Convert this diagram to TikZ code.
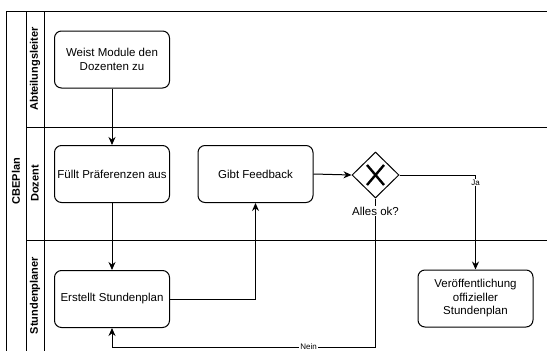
\documentclass[tikz,border=0pt]{standalone}
\usepackage{fontspec}
\setmainfont{Liberation Sans}
\usetikzlibrary{shapes.geometric,arrows.meta}
\begin{document}
\begin{tikzpicture}[x=1pt,y=-1pt,
  task/.style={draw,line width=1pt,rounded corners=7pt,minimum width=115pt,minimum height=57pt,align=center,inner sep=2pt,font=\fontsize{11.5}{13.5}\selectfont},
  lanelbl/.style={rotate=90,font=\bfseries\fontsize{11}{13}\selectfont},
  flow/.style={line width=1pt,-{Stealth[length=8pt,width=7pt]}},
  plain/.style={line width=1pt},
  pool/.style={line width=1pt}]
\useasboundingbox (0,0) rectangle (547,351);
% pool and lanes
\draw[pool] (547,11) -- (6,11) -- (6,351);
\draw[pool] (26,11) -- (26,351);
\draw[pool] (44,11) -- (44,351);
\draw[pool] (26,127) -- (547,127);
\draw[pool] (26,240) -- (547,240);
\node[lanelbl] (pl) at (16,181) {CBEPlan};
\node[lanelbl] (l1) at (35,69) {Abteilungsleiter};
\node[lanelbl] (l2) at (35,183.5) {Dozent};
\node[lanelbl] (l3) at (35,295.5) {Stundenplaner};
% tasks
\node[task] (w) at (112,59.5) {Weist Module den\\Dozenten zu};
\node[task] (f) at (112,174) {Füllt Präferenzen aus};
\node[task] (e) at (112,299) {Erstellt Stundenplan};
\node[task] (g) at (255.5,174) {Gibt Feedback};
\node[task] (v) at (475.5,298.5) {Veröffentlichung\\offizieller\\Stundenplan};
% gateway
\node[diamond,draw,line width=1pt,minimum width=47pt,minimum height=46pt,inner sep=0pt] (d) at (375.5,175) {};
\draw[line width=2.4pt] (367,165) -- (384,185) (384,165) -- (367,185);
\coordinate (nb) at (375.5,347);
% connectors
\draw[flow] (w) -- (f);
\draw[flow] (f) -- (e);
\draw[flow] (e.east) -| (g.south);
\draw[flow] (g.east) -- (d.west);
\draw[flow] (d.east) -| node[pos=0.54,fill=white,inner sep=1pt,font=\fontsize{8}{9}\selectfont] (ja) {Ja} (v.north);
\draw[plain] (d.south) -- (nb);
\draw[flow] (nb) -| node[pos=0.127,fill=white,inner sep=1pt,font=\fontsize{8}{9}\selectfont] (nein) {Nein} (e.south);
\node[fill=white,inner sep=1pt,font=\fontsize{11.5}{13}\selectfont] (ok) at (375.5,211) {Alles ok?};
\end{tikzpicture}
\end{document}
